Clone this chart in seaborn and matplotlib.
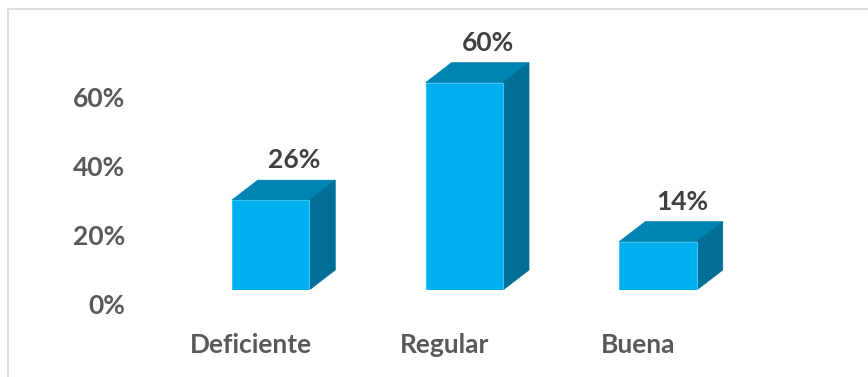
import matplotlib
matplotlib.use("Agg")
import matplotlib.pyplot as plt
import seaborn as sns
import pandas as pd
from matplotlib.patches import Polygon
from matplotlib.lines import Line2D
from matplotlib.transforms import ScaledTranslation, blended_transform_factory

categories = ["Deficiente", "Regular", "Buena"]
values = [26, 60, 14]
value_labels = ["26%", "60%", "14%"]
y_ticks = [0, 20, 40, 60]
y_tick_labels = ["0%", "20%", "40%", "60%"]

sns.set_theme(style="white")
plt.rcParams["font.family"] = ["Lato", "DejaVu Sans"]

W, H, DPI = 868, 377, 100
fig = plt.figure(figsize=(W / DPI, H / DPI), dpi=DPI)
fig.patch.set_facecolor("white")

# axes placement (pixels from top-left)
px_per_cat = 193.75
px_per_pct = 3.455
x0_px = 270.5          # centre of first bar front face
base_px = 290.0        # baseline of front faces
xlim = (-0.7, 3.0)
top_px = 20.0
left_px = x0_px + xlim[0] * px_per_cat
right_px = x0_px + xlim[1] * px_per_cat
ax = fig.add_axes([left_px / W, (H - base_px) / H,
                   (right_px - left_px) / W, (base_px - top_px) / H])

df = pd.DataFrame({"cat": categories, "val": values})
sns.barplot(data=df, x="cat", y="val", color="#00B0F0", saturation=1,
            width=0.4, ax=ax, edgecolor="#3CC3F3", linewidth=0.8, zorder=3)

ax.set_xlim(*xlim)
ax.set_ylim(0, (base_px - top_px) / px_per_pct)
ax.set_axis_off()

# 3D depth in data units
dx = 26 / px_per_cat
dy = 20 / px_per_pct
top_col = "#0084B4"
side_col = "#006E96"
for p in list(ax.patches):
    x = p.get_x()
    w = p.get_width()
    h = p.get_height()
    top = Polygon([(x, h), (x + dx, h + dy), (x + w + dx, h + dy), (x + w, h)],
                  closed=True, facecolor=top_col, edgecolor=top_col, lw=0.5, zorder=2)
    side = Polygon([(x + w, 0), (x + w + dx, dy), (x + w + dx, h + dy), (x + w, h)],
                   closed=True, facecolor=side_col, edgecolor=side_col, lw=0.5, zorder=2)
    ax.add_patch(top)
    ax.add_patch(side)

# value labels
off_val = ScaledTranslation(24 / DPI, 32 / DPI, fig.dpi_scale_trans)
for i, (v, lab) in enumerate(zip(values, value_labels)):
    ax.text(i, v, lab, transform=ax.transData + off_val, ha="center", va="baseline",
            fontsize=19, fontweight="bold", color="#404040")

# category labels
off_cat = ScaledTranslation(-19.5 / DPI, -63 / DPI, fig.dpi_scale_trans)
for i, c in enumerate(categories):
    ax.text(i, 0, c, transform=ax.transData + off_cat, ha="center", va="baseline",
            fontsize=19, fontweight="bold", color="#595959")

# y tick labels
blend = blended_transform_factory(ax.transAxes, ax.transData)
off_y = ScaledTranslation(-(left_px - 125) / DPI, -16 / DPI, fig.dpi_scale_trans)
for t, lab in zip(y_ticks, y_tick_labels):
    ax.text(0, t, lab, transform=blend + off_y, ha="right", va="center",
            fontsize=19, fontweight="bold", color="#595959")

# chart frame (top and left edges)
fy = 1 - 9 / H
fx = 7.5 / W
fig.add_artist(Line2D([fx, 1], [fy, fy], transform=fig.transFigure, color="#D9D9D9", lw=1.2))
fig.add_artist(Line2D([fx, fx], [0, fy], transform=fig.transFigure, color="#D9D9D9", lw=1.2))

fig.savefig("out.png", dpi=DPI, facecolor="white")
